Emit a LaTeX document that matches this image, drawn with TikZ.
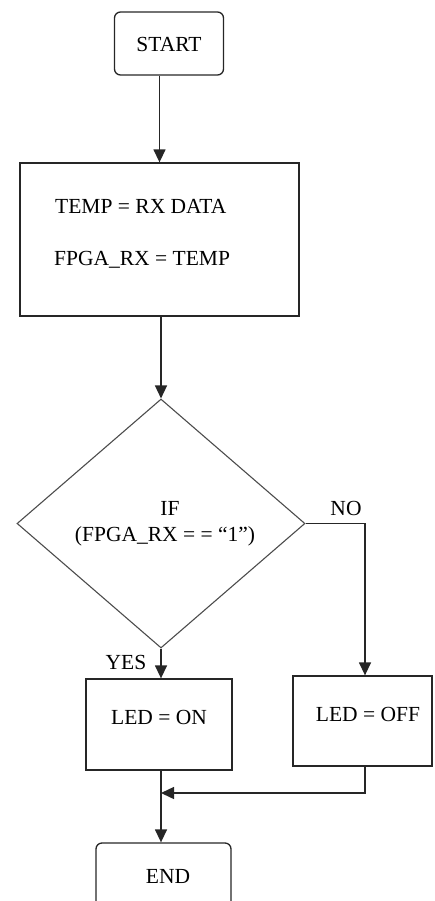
\documentclass[tikz,border=0pt]{standalone}
\usepackage{fontspec}
\setmainfont{Liberation Serif}
\usetikzlibrary{arrows.meta,shapes.geometric}
\begin{document}
\begin{tikzpicture}[x=1pt,y=-1pt,
  box/.style={draw=black!85,line width=1.3pt,inner sep=0pt},
  rbox/.style={box,rounded corners=6pt},
  txt/.style={font=\fontsize{21.5}{24}\selectfont,inner sep=0pt,anchor=base},
  conn/.style={draw=black!85,line width=1.4pt},
  arr/.style={conn,-{Triangle[length=13pt,width=12pt]}}]
\useasboundingbox (0,0) rectangle (434,901);
\clip (0,0) rectangle (434,901);
% nodes
\node[rbox,minimum width=109pt,minimum height=63pt] (start) at (169,43.5) {};
\node[txt] (tstart) at (169,52) {START};
\node[box,minimum width=279pt,minimum height=153pt] (temp) at (159.5,239.5) {};
\node[txt,anchor=base west] (t1) at (55,214) {TEMP = RX DATA};
\node[txt,anchor=base west] (t2) at (54,265) {FPGA\_RX = TEMP};
\node[draw=black!70,line width=1.1pt,diamond,minimum width=288pt,minimum height=249pt,inner sep=0pt] (dec) at (161,523.5) {};
\node[txt] (tif) at (170,515) {IF};
\node[txt] (tcond) at (165,541) {(FPGA\_RX = = “1”)};
\node[box,minimum width=146pt,minimum height=91pt] (on) at (159,724.5) {};
\node[txt] (ton) at (159,724) {LED = ON};
\node[box,minimum width=139pt,minimum height=90pt] (off) at (362.5,721) {};
\node[txt] (toff) at (368,721) {LED = OFF};
\node[rbox,minimum width=135pt,minimum height=120pt] (endn) at (163.5,903) {};
\node[txt] (tend) at (168,883) {END};
\node[txt] (tno) at (346,515) {NO};
\node[txt] (tyes) at (126,669) {YES};
% connectors
\draw[arr] (start.south -| temp.north) -- (temp.north);
\draw[arr] (temp.south -| dec.north) -- (dec.north);
\draw[arr] (dec.east) -| (365,0 |- off.north);
\draw[arr] (dec.south) -- (dec.south |- on.north);
\coordinate (join) at (161,793);
\draw[arr] (join |- on.south) -- (join |- endn.north);
\draw[arr] (365,0 |- off.south) |- (join);
\end{tikzpicture}
\end{document}
